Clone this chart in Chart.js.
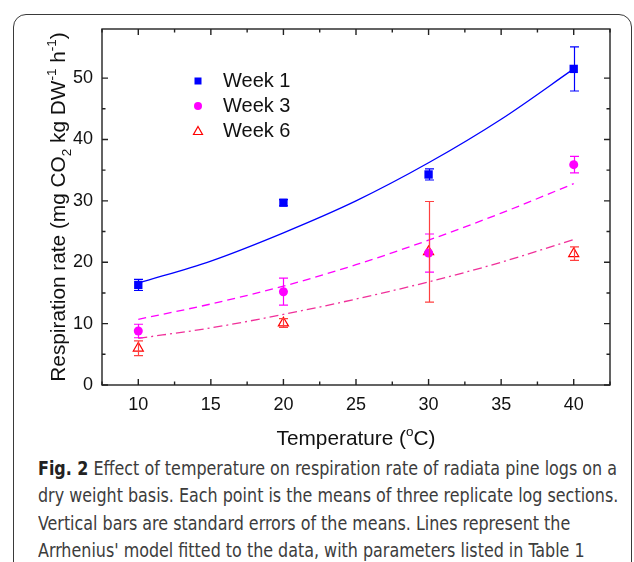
<!DOCTYPE html>
<html lang="en">
<head>
<meta charset="UTF-8" />
<title>Fig. 2 Respiration rate vs temperature</title>
<script src="https://cdn.jsdelivr.net/npm/chart.js"></script>
<style>
  html, body { margin: 0; padding: 0; background: #fff; }
  body { width: 634px; height: 562px; overflow: hidden; position: relative; }
  .frame { position: absolute; left: 13px; top: 14px; width: 619px; height: 620px; border: 1.5px solid #3a3a3a; border-radius: 13px; box-sizing: border-box; }
  #wrap { position: absolute; left: 0; top: 0; width: 634px; height: 455px; }
  .caption { position: absolute; left: 38px; top: 455px; font-family: 'DejaVu Sans Condensed', 'Liberation Sans Narrow', sans-serif; font-size: 19px; line-height: 27.3px; color: #3c3c3c; white-space: nowrap; }
  .caption div { transform-origin: 0 50%; width: max-content; }
  .caption b { color: #222; }
</style>
</head>
<body>
<div class="frame"></div>
<div id="wrap"><canvas id="chart" width="634" height="455"></canvas></div>
<div class="caption" id="caption">
  <div><b>Fig. 2</b> Effect of temperature on respiration rate of radiata pine logs on a</div>
  <div>dry weight basis. Each point is the means of three replicate log sections.</div>
  <div>Vertical bars are standard errors of the means. Lines represent the</div>
  <div>Arrhenius' model fitted to the data, with parameters listed in Table 1</div>
</div>
<script>
// measured means and standard errors
const temps = [10, 20, 30, 40];
const week1 = [16.3, 29.7, 34.3, 51.5];
const week1Err = [0.9, 0.5, 0.9, 3.6];
const week3 = [8.8, 15.2, 21.5, 35.9];
const week3Err = [1.1, 2.2, 3.1, 1.35];
const week6 = [6.0, 10.1, 21.7, 21.4];
const week6Err = [1.2, 0.7, 8.2, 1.1];

// fitted Arrhenius curves
const fitTemps = [10, 15, 20, 25, 30, 35, 40];
const fitWeek1 = [16.6, 20.2, 24.8, 30.0, 36.2, 43.3, 51.5];
const fitWeek3 = [10.7, 13.2, 16.1, 19.6, 23.6, 28.0, 32.8];
const fitWeek6 = [7.6, 9.3, 11.5, 14.0, 16.8, 20.0, 23.7];

const xTickLabels = [10, 15, 20, 25, 30, 35, 40];
const yTickLabels = [0, 10, 20, 30, 40, 50];

const FONT = "'Liberation Sans', Arial, Helvetica, sans-serif";

// squeeze the caption to the narrow width of the original typeface
const capLines = document.querySelectorAll('#caption div');
const squeeze = 579 / capLines[0].getBoundingClientRect().width;
capLines.forEach(d => { d.style.transform = 'scaleX(' + squeeze + ')'; });

function pts(xs, ys) { return xs.map((x, i) => ({ x: x, y: ys[i] })); }

// vertical error bars with caps
const errorBars = {
  id: 'errorBars',
  afterDatasetsDraw(chart) {
    const { ctx, scales: { x, y } } = chart;
    chart.data.datasets.forEach(ds => {
      if (!ds.errors) return;
      ctx.save();
      ctx.strokeStyle = ds.errorColor;
      ctx.lineWidth = 1.2;
      ds.data.forEach((p, j) => {
        const px = Math.round(x.getPixelForValue(p.x)) + 0.5;
        const top = y.getPixelForValue(p.y + ds.errors[j]);
        const bot = y.getPixelForValue(p.y - ds.errors[j]);
        ctx.beginPath();
        ctx.moveTo(px, top); ctx.lineTo(px, bot);
        ctx.moveTo(px - 4.5, top); ctx.lineTo(px + 4.5, top);
        ctx.moveTo(px - 4.5, bot); ctx.lineTo(px + 4.5, bot);
        ctx.stroke();
      });
      ctx.restore();
    });
  }
};

// boxed frame with inward ticks on all four sides
const frameTicks = {
  id: 'frameTicks',
  afterDraw(chart) {
    const { ctx, chartArea: a, scales: { x, y } } = chart;
    ctx.save();
    ctx.strokeStyle = '#222';
    ctx.lineWidth = 1.4;
    ctx.strokeRect(a.left, a.top, a.right - a.left, a.bottom - a.top);
    ctx.beginPath();
    x.ticks.forEach(t => {
      const px = x.getPixelForValue(t.value);
      const len = t.value % 5 === 0 ? 6 : 3.5;
      ctx.moveTo(px, a.bottom); ctx.lineTo(px, a.bottom - len);
      ctx.moveTo(px, a.top); ctx.lineTo(px, a.top + len);
    });
    y.ticks.forEach(t => {
      if (t.value % 5 !== 0) return;
      const py = y.getPixelForValue(t.value);
      const len = t.value % 10 === 0 ? 6 : 3.5;
      ctx.moveTo(a.left, py); ctx.lineTo(a.left + len, py);
      ctx.moveTo(a.right, py); ctx.lineTo(a.right - len, py);
    });
    ctx.stroke();
    ctx.restore();
  }
};

function drawRich(ctx, parts, size) {
  let w = 0;
  parts.forEach(p => {
    ctx.font = (p.s ? size * 0.65 : size) + 'px ' + FONT;
    p.w = ctx.measureText(p.t).width;
    w += p.w;
  });
  let cx = -w / 2;
  parts.forEach(p => {
    ctx.font = (p.s ? size * 0.65 : size) + 'px ' + FONT;
    const dy = p.s === 'sub' ? size * 0.28 : p.s === 'sup' ? -size * 0.42 : 0;
    ctx.fillText(p.t, cx, dy);
    cx += p.w;
  });
}

// axis titles and inset legend
const titlesLegend = {
  id: 'titlesLegend',
  afterDraw(chart) {
    const { ctx, chartArea: a } = chart;
    ctx.save();
    ctx.fillStyle = '#111';
    ctx.textBaseline = 'alphabetic';
    ctx.textAlign = 'left';

    ctx.save();
    ctx.translate(65, (a.top + a.bottom) / 2);
    ctx.rotate(-Math.PI / 2);
    drawRich(ctx, [
      { t: 'Respiration rate (mg CO' }, { t: '2', s: 'sub' }, { t: ' kg DW' },
      { t: '-1', s: 'sup' }, { t: ' h' }, { t: '-1', s: 'sup' }, { t: ')' }
    ], 20.8);
    ctx.restore();

    ctx.save();
    ctx.translate((a.left + a.right) / 2, 445);
    drawRich(ctx, [{ t: 'Temperature (' }, { t: 'o', s: 'sup' }, { t: 'C)' }], 20.8);
    ctx.restore();

    const lx = a.left + 96, tx = a.left + 121;
    const rows = [
      { label: 'Week 1', y: 81 },
      { label: 'Week 3', y: 106 },
      { label: 'Week 6', y: 131 }
    ];
    ctx.font = '20px ' + FONT;
    ctx.textBaseline = 'middle';
    rows.forEach(r => ctx.fillText(r.label, tx, r.y));
    ctx.fillStyle = '#0000ff';
    ctx.fillRect(lx - 3.5, rows[0].y - 3.5, 7, 7);
    ctx.fillStyle = '#ff00ff';
    ctx.beginPath(); ctx.arc(lx, rows[1].y, 4, 0, Math.PI * 2); ctx.fill();
    ctx.strokeStyle = '#ff0000'; ctx.lineWidth = 1.2;
    ctx.beginPath();
    ctx.moveTo(lx, rows[2].y - 4.5); ctx.lineTo(lx + 4.5, rows[2].y + 3.5); ctx.lineTo(lx - 4.5, rows[2].y + 3.5); ctx.closePath();
    ctx.stroke();
    ctx.restore();
  }
};

new Chart(document.getElementById('chart'), {
  type: 'scatter',
  data: {
    datasets: [
      { label: 'Week 1', data: pts(temps, week1), errors: week1Err, errorColor: '#0000ff',
        pointStyle: 'rect', pointRadius: 5.9, backgroundColor: '#0000ff', borderColor: '#0000ff', borderWidth: 0, order: 1 },
      { label: 'Week 3', data: pts(temps, week3), errors: week3Err, errorColor: '#ff00ff',
        pointStyle: 'circle', pointRadius: 4.5, backgroundColor: '#ff00ff', borderColor: '#ff00ff', borderWidth: 0, order: 2 },
      { label: 'Week 6', data: pts(temps, week6), errors: week6Err, errorColor: '#ff4040',
        pointStyle: 'triangle', pointRadius: 5.8, backgroundColor: 'rgba(255,255,255,0)', borderColor: '#ff0000', borderWidth: 1.2, order: 3 },
      { label: 'fit1', data: pts(fitTemps, fitWeek1), showLine: true, pointRadius: 0, borderColor: '#0000ff',
        borderWidth: 1.3, cubicInterpolationMode: 'monotone', order: 4 },
      { label: 'fit3', data: pts(fitTemps, fitWeek3), showLine: true, pointRadius: 0, borderColor: '#ff00ff',
        borderWidth: 1.3, borderDash: [8, 5], cubicInterpolationMode: 'monotone', order: 5 },
      { label: 'fit6', data: pts(fitTemps, fitWeek6), showLine: true, pointRadius: 0, borderColor: '#f0309a',
        borderWidth: 1.3, borderDash: [9, 4, 2, 4], cubicInterpolationMode: 'monotone', order: 6 }
    ]
  },
  options: {
    responsive: false,
    animation: false,
    layout: { padding: { left: 52, right: 24, top: 29, bottom: 30 } },
    plugins: { legend: { display: false }, tooltip: { enabled: false } },
    scales: {
      x: {
        type: 'linear', min: 7.5, max: 42.5,
        grid: { display: false, drawTicks: false }, border: { display: false },
        ticks: { stepSize: 2.5, padding: 9, color: '#111', font: { family: FONT, size: 18 }, maxRotation: 0, autoSkip: false,
          callback: v => xTickLabels.includes(v) ? String(v) : '' },
        afterFit: s => { s.height = 40; }
      },
      y: {
        type: 'linear', min: 0, max: 58,
        grid: { display: false, drawTicks: false }, border: { display: false },
        ticks: { stepSize: 5, padding: 9, color: '#111', font: { family: FONT, size: 18 }, autoSkip: false,
          callback: v => yTickLabels.includes(v) ? String(v) : '' },
        afterFit: s => { s.width = 50; }
      }
    }
  },
  plugins: [errorBars, frameTicks, titlesLegend]
});
</script>
</body>
</html>
